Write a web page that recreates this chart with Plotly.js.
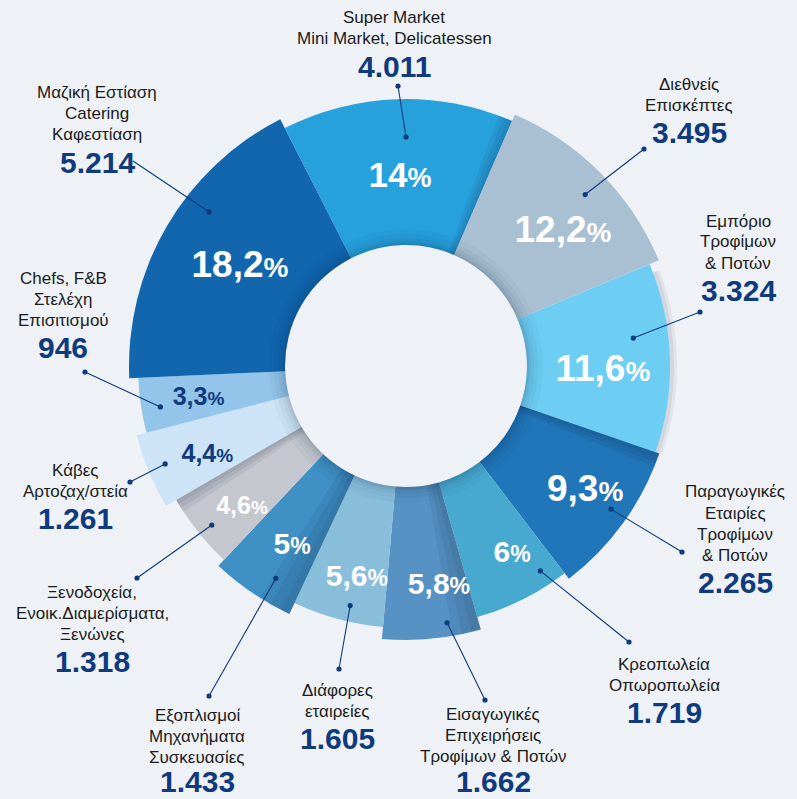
<!DOCTYPE html>
<html>
<head>
<meta charset="utf-8">
<script src="https://cdn.plot.ly/plotly-3.0.1.min.js"></script>
<style>
html,body{margin:0;padding:0;background:#eef2f6;}
#chart{width:797px;height:799px;}
</style>
</head>
<body>
<div id="chart"></div>
<script>
// ---------------- DATA ----------------
const categories = [
  'Super Market<br>Mini Market, Delicatessen',
  'Διεθνείς<br>Επισκέπτες',
  'Εμπόριο<br>Τροφίμων<br>& Ποτών',
  'Παραγωγικές<br>Εταιρίες<br>Τροφίμων<br>& Ποτών',
  'Κρεοπωλεία<br>Οπωροπωλεία',
  'Εισαγωγικές<br>Επιχειρήσεις<br>Τροφίμων & Ποτών',
  'Διάφορες<br>εταιρείες',
  'Εξοπλισμοί<br>Μηχανήματα<br>Συσκευασίες',
  'Ξενοδοχεία,<br>Ενοικ.Διαμερίσματα,<br>Ξενώνες',
  'Κάβες<br>Αρτοζαχ/στεία',
  'Chefs, F&B<br>Στελέχη<br>Επισιτισμού',
  'Μαζική Εστίαση<br>Catering<br>Καφεστίαση'
];
const companies = [4011, 3495, 3324, 2265, 1719, 1662, 1605, 1433, 1318, 1261, 946, 5214];
const sharePct  = [14, 12.2, 11.6, 9.3, 6, 5.8, 5.6, 5, 4.6, 4.4, 3.3, 18.2];

// ---------------- STYLE / LAYOUT ----------------
const W = 797, H = 799;
const CX = 406, CY = 366, PR = 366;     // polar centre & pixel radius
const START = -27;                       // first slice starts here (deg, clockwise from north)
const HOLE = 121;
const colors = ['#27a1dc','#a8c0d2','#6dcdf3','#2176b9','#48a9d0','#5693c4',
                '#89bedb','#3f90c5','#c4c8ce','#cde4f6','#93c4e9','#1166ae'];
const outerR = [267, 274, 264, 268, 261, 274, 262, 274, 266, 278, 268, 277];
const pctR      = [188, 206, 197, 219, 216, 223, 218, 213, 217, 218, 210, 193];
const pctDTheta = [0, 4.3, 3.5, -0.7, -2.8, -3.1, -2.1, -1.9, -2.4, -2, -0.5, 0.4];
const pctSize   = [35, 37, 37, 37, 30, 30, 30, 30, 25, 25, 25, 37];
const pctColor  = ['#fff','#fff','#fff','#fff','#fff','#fff','#fff','#fff','#fff','#0f3a7d','#0f3a7d','#fff'];
const labelX = [394, 689, 738, 735, 664, 493, 337, 197, 92, 75, 63, 97];
const labelY = [18, 84, 221, 492, 664, 714, 690, 715, 592, 470, 278, 93];
const leaderOut = [[398,86],[644,149],[700,312],[682,552],[629,642],[485,700],
                   [339,669],[209,696],[137,578],[130,482],[85,372],[133,161]];
const leaderOutDot = [1,1,1,1,1,1,1,1,1,1,1,0];
const leaderInDTheta = [1.8, 0.9, -5.2, -0.9, -6.6, -3.7, -2.0, -2.7, -0.8, 0.2, -1.0, 7.8];
const leaderInR      = [229, 248, 229, 250, 245, 260, 246, 249, 251, 260, 249, 250];
// folded-paper shading: [slice index, side, angular layer widths]
const shadeSpec = [[0,'end',[3,2,1]], [3,'start',[3,2,1]], [8,'end',[3,2,1]],
                   [7,'start',[7,4.5,2]], [5,'start',[6,4,2]]];
const SHADE = 'rgba(10,30,60,0.07)';

const NAVY = '#0f3a7d';
const LABEL_FONT = 'Liberation Sans, Arial, sans-serif';
const BOLD_FONT = 'Liberation Sans, Arial, sans-serif';

// ---------------- derived ----------------
const fmtInt = n => String(n).replace(/\B(?=(\d{3})+(?!\d))/g, '.');
const fmtPct = v => String(v).replace('.', ',');
const widths = sharePct.map(p => p * 3.6);
const mids = [], starts = [], ends = [];
let acc = START;
widths.forEach(w => { starts.push(acc); mids.push(acc + w / 2); acc += w; ends.push(acc); });

const toPx = (thetaDeg, r) => {
  const t = thetaDeg * Math.PI / 180;
  return [CX + r * Math.sin(t), CY - r * Math.cos(t)];
};
const px2paperX = x => x / W;
const px2paperY = y => 1 - y / H;

const traces = [];

// slices
traces.push({
  type: 'barpolar',
  theta: mids,
  width: widths,
  base: sharePct.map(() => HOLE),
  r: outerR.map(r => r - HOLE),
  marker: {color: colors, line: {width: 0}},
  hoverinfo: 'skip',
  showlegend: false
});

// edge shading
shadeSpec.forEach(([i, side, layers]) => {
  layers.forEach(w => {
    const th = side === 'end' ? ends[i] - w / 2 : starts[i] + w / 2;
    traces.push({
      type: 'barpolar', theta: [th], width: [w], base: [HOLE], r: [outerR[i] - HOLE],
      marker: {color: SHADE, line: {width: 0}}, hoverinfo: 'skip', showlegend: false
    });
  });
});
// drop shadow outside the 11.6% slice
[[7, 'rgba(10,30,60,0.06)'], [4, 'rgba(10,30,60,0.07)']].forEach(([t, c]) => {
  traces.push({
    type: 'barpolar', theta: [mids[2] + 1], width: [widths[2] - 2], base: [outerR[2]], r: [t],
    marker: {color: c, line: {width: 0}}, hoverinfo: 'skip', showlegend: false
  });
});

// soft shadow around the hole
[[16, 'rgba(10,30,60,0.03)'], [11, 'rgba(10,30,60,0.035)'], [7, 'rgba(10,30,60,0.04)'],
 [4, 'rgba(10,30,60,0.05)'], [2, 'rgba(10,30,60,0.06)']].forEach(([t, c]) => {
  traces.push({
    type: 'barpolar',
    theta: [90, 270], width: [180, 180],
    base: [HOLE, HOLE], r: [t, t],
    marker: {color: c, line: {width: 0}},
    hoverinfo: 'skip', showlegend: false
  });
});

// percent labels
traces.push({
  type: 'scatterpolar',
  mode: 'text',
  theta: mids.map((m, i) => m + pctDTheta[i]),
  r: pctR,
  text: sharePct.map((p, i) => fmtPct(p) + '<span style="font-size:' + Math.round(pctSize[i] * 0.76) + 'px">%</span>'),
  textposition: 'middle center',
  textfont: {family: BOLD_FONT, size: pctSize, color: pctColor, weight: 'bold'},
  cliponaxis: false,
  hoverinfo: 'skip', showlegend: false
});

// leader lines & dots as shapes (paper coords derived from polar geometry)
const shapes = [];
const dot = (x, y, rr) => ({
  type: 'circle', xref: 'paper', yref: 'paper',
  x0: px2paperX(x - rr), x1: px2paperX(x + rr),
  y0: px2paperY(y + rr), y1: px2paperY(y - rr),
  fillcolor: NAVY, line: {width: 0}, layer: 'above'
});
mids.forEach((m, i) => {
  const [ix, iy] = toPx(m + leaderInDTheta[i], leaderInR[i]);
  const [ox, oy] = leaderOut[i];
  shapes.push({
    type: 'line', xref: 'paper', yref: 'paper',
    x0: px2paperX(ix), y0: px2paperY(iy), x1: px2paperX(ox), y1: px2paperY(oy),
    line: {color: NAVY, width: 1.1}, layer: 'above'
  });
  shapes.push(dot(ix, iy, 2.6));
  if (leaderOutDot[i]) shapes.push(dot(ox, oy, 2.6));
});

// outer labels
const annotations = [];
const LINE = 21;
categories.forEach((c, i) => {
  const lines = c.split('<br>');
  lines.forEach((ln, k) => {
    annotations.push({
      xref: 'paper', yref: 'paper',
      x: px2paperX(labelX[i]), y: px2paperY(labelY[i] + k * LINE),
      xanchor: 'center', yanchor: 'middle', showarrow: false,
      text: ln,
      font: {family: LABEL_FONT, size: 17, color: '#1b1b1b'}
    });
  });
  const vy = labelY[i] + (lines.length - 1) * LINE + 27;
  const nearBottom = vy + 17 > H;
  annotations.push({
    xref: 'paper', yref: 'paper',
    x: px2paperX(labelX[i]), y: nearBottom ? 0 : px2paperY(vy),
    xanchor: 'center', yanchor: nearBottom ? 'bottom' : 'middle', showarrow: false,
    borderpad: 0,
    text: '<b>' + fmtInt(companies[i]) + '</b>',
    font: {family: BOLD_FONT, size: 30, color: NAVY}
  });
});

const layout = {
  width: W, height: H,
  margin: {l: 0, r: 0, t: 0, b: 0},
  paper_bgcolor: '#eef2f6',
  plot_bgcolor: '#eef2f6',
  showlegend: false,
  polar: {
    domain: {x: [(CX - PR) / W, (CX + PR) / W], y: [(H - CY - PR) / H, (H - CY + PR) / H]},
    bgcolor: 'rgba(0,0,0,0)',
    bargap: 0,
    barmode: 'overlay',
    radialaxis: {visible: false, range: [0, PR], showgrid: false, showline: false, ticks: ''},
    angularaxis: {visible: false, rotation: 90, direction: 'clockwise', thetaunit: 'degrees',
                  showgrid: false, showline: false, ticks: '', showticklabels: false}
  },
  shapes: shapes,
  annotations: annotations
};

Plotly.newPlot('chart', traces, layout, {displayModeBar: false, staticPlot: true});
</script>
</body>
</html>
